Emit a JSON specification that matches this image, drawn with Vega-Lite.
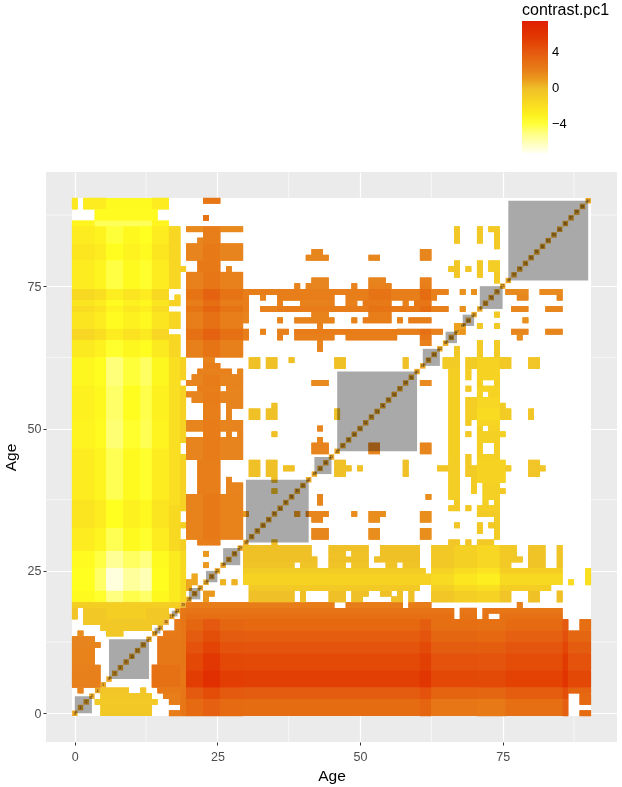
{"$schema":"https://vega.github.io/schema/vega-lite/v6.json","width":571,"height":570,"padding":{"left":46,"top":172,"right":5,"bottom":45},"autosize":"none","background":"white","config":{"view":{"fill":"#EBEBEB","stroke":null},"font":"Liberation Sans"},
"datasets":{
"minor":[{"x":12.5,"y":12.5},{"x":37.5,"y":37.5},{"x":62.5,"y":62.5},{"x":87.5,"y":87.5}],
"base":[{"x":-0.5,"x2":90.5,"y":-0.5,"y2":90.5}],
"blocks":[{"x":0,"x2":3,"y":0,"y2":3},{"x":6,"x2":13,"y":6,"y2":13},{"x":14,"x2":15,"y":14,"y2":15},{"x":17,"x2":18,"y":17,"y2":18},{"x":20,"x2":22,"y":20,"y2":22},{"x":23,"x2":25,"y":23,"y2":25},{"x":26,"x2":29,"y":26,"y2":29},{"x":30,"x2":41,"y":30,"y2":41},{"x":42,"x2":45,"y":42,"y2":45},{"x":46,"x2":60,"y":46,"y2":60},{"x":61,"x2":64,"y":61,"y2":64},{"x":65,"x2":67,"y":65,"y2":67},{"x":68,"x2":70,"y":68,"y2":70},{"x":71,"x2":75,"y":71,"y2":75},{"x":76,"x2":90,"y":76,"y2":90}],
"diag":[{"x":0,"y":0},{"x":1,"y":1},{"x":2,"y":2},{"x":3,"y":3},{"x":4,"y":4},{"x":5,"y":5},{"x":6,"y":6},{"x":7,"y":7},{"x":8,"y":8},{"x":9,"y":9},{"x":10,"y":10},{"x":11,"y":11},{"x":12,"y":12},{"x":13,"y":13},{"x":14,"y":14},{"x":15,"y":15},{"x":16,"y":16},{"x":17,"y":17},{"x":18,"y":18},{"x":19,"y":19},{"x":20,"y":20},{"x":21,"y":21},{"x":22,"y":22},{"x":23,"y":23},{"x":24,"y":24},{"x":25,"y":25},{"x":26,"y":26},{"x":27,"y":27},{"x":28,"y":28},{"x":29,"y":29},{"x":30,"y":30},{"x":31,"y":31},{"x":32,"y":32},{"x":33,"y":33},{"x":34,"y":34},{"x":35,"y":35},{"x":36,"y":36},{"x":37,"y":37},{"x":38,"y":38},{"x":39,"y":39},{"x":40,"y":40},{"x":41,"y":41},{"x":42,"y":42},{"x":43,"y":43},{"x":44,"y":44},{"x":45,"y":45},{"x":46,"y":46},{"x":47,"y":47},{"x":48,"y":48},{"x":49,"y":49},{"x":50,"y":50},{"x":51,"y":51},{"x":52,"y":52},{"x":53,"y":53},{"x":54,"y":54},{"x":55,"y":55},{"x":56,"y":56},{"x":57,"y":57},{"x":58,"y":58},{"x":59,"y":59},{"x":60,"y":60},{"x":61,"y":61},{"x":62,"y":62},{"x":63,"y":63},{"x":64,"y":64},{"x":65,"y":65},{"x":66,"y":66},{"x":67,"y":67},{"x":68,"y":68},{"x":69,"y":69},{"x":70,"y":70},{"x":71,"y":71},{"x":72,"y":72},{"x":73,"y":73},{"x":74,"y":74},{"x":75,"y":75},{"x":76,"y":76},{"x":77,"y":77},{"x":78,"y":78},{"x":79,"y":79},{"x":80,"y":80},{"x":81,"y":81},{"x":82,"y":82},{"x":83,"y":83},{"x":84,"y":84},{"x":85,"y":85},{"x":86,"y":86},{"x":87,"y":87},{"x":88,"y":88},{"x":89,"y":89},{"x":90,"y":90}],
"cells":[
{"x":-0.5,"x2":0.5,"y":88.5,"y2":90.5,"v":-2.5},{"x":1.5,"x2":5.5,"y":88.5,"y2":90.5,"v":-2.7},{"x":5.5,"x2":13.5,"y":88.5,"y2":90.5,"v":-3.5},{"x":13.5,"x2":16.5,"y":88.5,"y2":90.5,"v":-2.7},
{"x":3.5,"x2":14.5,"y":86.5,"y2":88.5,"v":-3.6},
{"x":-0.5,"x2":3.5,"y":85.5,"y2":86.5,"v":-3.2},{"x":3.5,"x2":13.5,"y":85.5,"y2":86.5,"v":-4.4},{"x":13.5,"x2":16.5,"y":85.5,"y2":86.5,"v":-3.2},
{"x":-0.5,"x2":3.5,"y":82.5,"y2":85.5,"v":-2.7},{"x":3.5,"x2":5.5,"y":82.5,"y2":85.5,"v":-3.1},{"x":5.5,"x2":8.5,"y":82.5,"y2":85.5,"v":-4},{"x":8.5,"x2":11.5,"y":82.5,"y2":85.5,"v":-3.4},{"x":11.5,"x2":13.5,"y":82.5,"y2":85.5,"v":-3.8},{"x":13.5,"x2":16.5,"y":82.5,"y2":85.5,"v":-2.7},
{"x":-0.5,"x2":3.5,"y":79.5,"y2":82.5,"v":-2.4},{"x":3.5,"x2":5.5,"y":79.5,"y2":82.5,"v":-2.8},{"x":5.5,"x2":8.5,"y":79.5,"y2":82.5,"v":-3.7},{"x":8.5,"x2":11.5,"y":79.5,"y2":82.5,"v":-3.1},{"x":11.5,"x2":13.5,"y":79.5,"y2":82.5,"v":-3.5},{"x":13.5,"x2":16.5,"y":79.5,"y2":82.5,"v":-2.4},
{"x":-0.5,"x2":3.5,"y":74.5,"y2":79.5,"v":-2.8},{"x":3.5,"x2":5.5,"y":74.5,"y2":79.5,"v":-3.2},{"x":5.5,"x2":8.5,"y":74.5,"y2":79.5,"v":-4.1},{"x":8.5,"x2":11.5,"y":74.5,"y2":79.5,"v":-3.5},{"x":11.5,"x2":13.5,"y":74.5,"y2":79.5,"v":-3.9},{"x":13.5,"x2":16.5,"y":74.5,"y2":79.5,"v":-2.8},
{"x":-0.5,"x2":3.5,"y":72.5,"y2":74.5,"v":-1.6},{"x":3.5,"x2":5.5,"y":72.5,"y2":74.5,"v":-2},{"x":5.5,"x2":8.5,"y":72.5,"y2":74.5,"v":-2.9},{"x":8.5,"x2":11.5,"y":72.5,"y2":74.5,"v":-2.3},{"x":11.5,"x2":13.5,"y":72.5,"y2":74.5,"v":-2.7},{"x":13.5,"x2":16.5,"y":72.5,"y2":74.5,"v":-1.6},
{"x":-0.5,"x2":3.5,"y":71.5,"y2":72.5,"v":-2.3},{"x":3.5,"x2":5.5,"y":71.5,"y2":72.5,"v":-2.7},{"x":5.5,"x2":8.5,"y":71.5,"y2":72.5,"v":-3.6},{"x":8.5,"x2":11.5,"y":71.5,"y2":72.5,"v":-3},{"x":11.5,"x2":13.5,"y":71.5,"y2":72.5,"v":-3.4},{"x":13.5,"x2":16.5,"y":71.5,"y2":72.5,"v":-2.3},
{"x":-0.5,"x2":3.5,"y":70.5,"y2":71.5,"v":-1.8},{"x":3.5,"x2":5.5,"y":70.5,"y2":71.5,"v":-2.2},{"x":5.5,"x2":8.5,"y":70.5,"y2":71.5,"v":-3.1},{"x":8.5,"x2":11.5,"y":70.5,"y2":71.5,"v":-2.5},{"x":11.5,"x2":13.5,"y":70.5,"y2":71.5,"v":-2.9},{"x":13.5,"x2":16.5,"y":70.5,"y2":71.5,"v":-1.8},
{"x":-0.5,"x2":3.5,"y":67.5,"y2":70.5,"v":-2.3},{"x":3.5,"x2":5.5,"y":67.5,"y2":70.5,"v":-2.7},{"x":5.5,"x2":8.5,"y":67.5,"y2":70.5,"v":-3.6},{"x":8.5,"x2":11.5,"y":67.5,"y2":70.5,"v":-3},{"x":11.5,"x2":13.5,"y":67.5,"y2":70.5,"v":-3.4},{"x":13.5,"x2":16.5,"y":67.5,"y2":70.5,"v":-2.3},
{"x":-0.5,"x2":3.5,"y":65.5,"y2":67.5,"v":-1.5},{"x":3.5,"x2":5.5,"y":65.5,"y2":67.5,"v":-1.9},{"x":5.5,"x2":8.5,"y":65.5,"y2":67.5,"v":-2.8},{"x":8.5,"x2":11.5,"y":65.5,"y2":67.5,"v":-2.2},{"x":11.5,"x2":13.5,"y":65.5,"y2":67.5,"v":-2.6},{"x":13.5,"x2":16.5,"y":65.5,"y2":67.5,"v":-1.5},
{"x":-0.5,"x2":3.5,"y":62.5,"y2":65.5,"v":-2.6},{"x":3.5,"x2":5.5,"y":62.5,"y2":65.5,"v":-3},{"x":5.5,"x2":8.5,"y":62.5,"y2":65.5,"v":-3.9},{"x":8.5,"x2":11.5,"y":62.5,"y2":65.5,"v":-3.3},{"x":11.5,"x2":13.5,"y":62.5,"y2":65.5,"v":-3.7},{"x":13.5,"x2":16.5,"y":62.5,"y2":65.5,"v":-2.6},
{"x":-0.5,"x2":3.5,"y":57.5,"y2":62.5,"v":-3.3},{"x":3.5,"x2":5.5,"y":57.5,"y2":62.5,"v":-3.7},{"x":5.5,"x2":8.5,"y":57.5,"y2":62.5,"v":-4.9},{"x":8.5,"x2":11.5,"y":57.5,"y2":62.5,"v":-4},{"x":11.5,"x2":13.5,"y":57.5,"y2":62.5,"v":-4.5},{"x":13.5,"x2":16.5,"y":57.5,"y2":62.5,"v":-3.3},
{"x":-0.5,"x2":3.5,"y":51.5,"y2":57.5,"v":-3},{"x":3.5,"x2":5.5,"y":51.5,"y2":57.5,"v":-3.4},{"x":5.5,"x2":8.5,"y":51.5,"y2":57.5,"v":-4.6},{"x":8.5,"x2":11.5,"y":51.5,"y2":57.5,"v":-3.7},{"x":11.5,"x2":13.5,"y":51.5,"y2":57.5,"v":-4.2},{"x":13.5,"x2":16.5,"y":51.5,"y2":57.5,"v":-3},
{"x":-0.5,"x2":3.5,"y":46.5,"y2":51.5,"v":-3.2},{"x":3.5,"x2":5.5,"y":46.5,"y2":51.5,"v":-3.6},{"x":5.5,"x2":8.5,"y":46.5,"y2":51.5,"v":-4.8},{"x":8.5,"x2":11.5,"y":46.5,"y2":51.5,"v":-3.9},{"x":11.5,"x2":13.5,"y":46.5,"y2":51.5,"v":-4.3},{"x":13.5,"x2":16.5,"y":46.5,"y2":51.5,"v":-3.2},
{"x":-0.5,"x2":3.5,"y":37.5,"y2":46.5,"v":-2.8},{"x":3.5,"x2":5.5,"y":37.5,"y2":46.5,"v":-3.2},{"x":5.5,"x2":8.5,"y":37.5,"y2":46.5,"v":-4.3},{"x":8.5,"x2":11.5,"y":37.5,"y2":46.5,"v":-3.5},{"x":11.5,"x2":13.5,"y":37.5,"y2":46.5,"v":-3.9},{"x":13.5,"x2":16.5,"y":37.5,"y2":46.5,"v":-2.8},
{"x":-0.5,"x2":3.5,"y":32.5,"y2":37.5,"v":-2.3},{"x":3.5,"x2":5.5,"y":32.5,"y2":37.5,"v":-2.7},{"x":5.5,"x2":8.5,"y":32.5,"y2":37.5,"v":-3.8},{"x":8.5,"x2":11.5,"y":32.5,"y2":37.5,"v":-3},{"x":11.5,"x2":13.5,"y":32.5,"y2":37.5,"v":-3.4},{"x":13.5,"x2":16.5,"y":32.5,"y2":37.5,"v":-2.3},
{"x":-0.5,"x2":3.5,"y":28.5,"y2":32.5,"v":-2.8},{"x":3.5,"x2":5.5,"y":28.5,"y2":32.5,"v":-3.2},{"x":5.5,"x2":8.5,"y":28.5,"y2":32.5,"v":-4.3},{"x":8.5,"x2":11.5,"y":28.5,"y2":32.5,"v":-3.5},{"x":11.5,"x2":13.5,"y":28.5,"y2":32.5,"v":-3.9},{"x":13.5,"x2":16.5,"y":28.5,"y2":32.5,"v":-2.8},
{"x":-0.5,"x2":3.5,"y":25.5,"y2":28.5,"v":-3.6},{"x":3.5,"x2":5.5,"y":25.5,"y2":28.5,"v":-4.1},{"x":5.5,"x2":8.5,"y":25.5,"y2":28.5,"v":-5.4},{"x":8.5,"x2":11.5,"y":25.5,"y2":28.5,"v":-4.5},{"x":11.5,"x2":13.5,"y":25.5,"y2":28.5,"v":-5},{"x":13.5,"x2":16.5,"y":25.5,"y2":28.5,"v":-3.5},
{"x":-0.5,"x2":3.5,"y":21.5,"y2":25.5,"v":-3.8},{"x":3.5,"x2":5.5,"y":21.5,"y2":25.5,"v":-4.6},{"x":5.5,"x2":8.5,"y":21.5,"y2":25.5,"v":-6.8},{"x":8.5,"x2":11.5,"y":21.5,"y2":25.5,"v":-5.5},{"x":11.5,"x2":13.5,"y":21.5,"y2":25.5,"v":-6},{"x":13.5,"x2":16.5,"y":21.5,"y2":25.5,"v":-3.7},
{"x":-0.5,"x2":3.5,"y":19.5,"y2":21.5,"v":-3.5},{"x":3.5,"x2":5.5,"y":19.5,"y2":21.5,"v":-3.9},{"x":5.5,"x2":8.5,"y":19.5,"y2":21.5,"v":-5},{"x":8.5,"x2":11.5,"y":19.5,"y2":21.5,"v":-4.2},{"x":11.5,"x2":13.5,"y":19.5,"y2":21.5,"v":-4.6},{"x":13.5,"x2":16.5,"y":19.5,"y2":21.5,"v":-3.4},
{"x":16.5,"x2":18.5,"y":74.5,"y2":85.5,"v":-1.5},{"x":17.5,"x2":18.5,"y":72.5,"y2":73.5,"v":-1.2},{"x":16.5,"x2":18.5,"y":71.5,"y2":72.5,"v":-1.2},{"x":16.5,"x2":18.5,"y":67.5,"y2":70.5,"v":-1.4},{"x":16.5,"x2":18.5,"y":62.5,"y2":66.5,"v":-1.5},{"x":16.5,"x2":18.5,"y":47.5,"y2":62.5,"v":-1.9},{"x":16.5,"x2":18.5,"y":36.5,"y2":47.5,"v":-1.9},{"x":16.5,"x2":18.5,"y":28.5,"y2":36.5,"v":-1.6},{"x":16.5,"x2":18.5,"y":19.5,"y2":28.5,"v":-2.6},
{"x":18.5,"x2":19.5,"y":77.5,"y2":78.5,"v":-1},{"x":18.5,"x2":19.5,"y":58.5,"y2":62.5,"v":-1.2},{"x":18.5,"x2":19.5,"y":47.5,"y2":57.5,"v":-1.2},{"x":18.5,"x2":19.5,"y":35.5,"y2":45.5,"v":-1.2},{"x":18.5,"x2":19.5,"y":32.5,"y2":33.5,"v":-1},{"x":18.5,"x2":19.5,"y":28.5,"y2":30.5,"v":-1},{"x":18.5,"x2":19.5,"y":19.5,"y2":28.5,"v":-1.6},
{"x":-0.5,"x2":18.5,"y":18.5,"y2":19.5,"v":-1},{"x":-0.5,"x2":0.5,"y":16.5,"y2":18.5,"v":-0.4},{"x":1.5,"x2":5.5,"y":16.5,"y2":18.5,"v":-0.6},{"x":5.5,"x2":12.5,"y":16.5,"y2":18.5,"v":-1},{"x":12.5,"x2":16.5,"y":16.5,"y2":18.5,"v":-0.6},{"x":1.5,"x2":15.5,"y":15.5,"y2":16.5,"v":-0.6},{"x":4.5,"x2":13.5,"y":14.5,"y2":15.5,"v":-0.6},{"x":5.5,"x2":8.5,"y":13.5,"y2":14.5,"v":-0.6},
{"x":0.5,"x2":1.5,"y":13.5,"y2":14.5,"v":1.3},{"x":-0.5,"x2":3.5,"y":12.5,"y2":13.5,"v":1.6},{"x":-0.5,"x2":4.5,"y":11.5,"y2":12.5,"v":1.6},{"x":-0.5,"x2":3.5,"y":8.5,"y2":11.5,"v":1.7},{"x":-0.5,"x2":4.5,"y":4.5,"y2":8.5,"v":1.9},{"x":0.5,"x2":1.5,"y":3.5,"y2":4.5,"v":1.6},
{"x":4.5,"x2":9.5,"y":3.5,"y2":4.5,"v":-0.5},{"x":11.5,"x2":12.5,"y":3.5,"y2":4.5,"v":-0.5},{"x":4.5,"x2":13.5,"y":2.5,"y2":3.5,"v":-0.6},{"x":3.5,"x2":14.5,"y":1.5,"y2":2.5,"v":-0.7},{"x":4.5,"x2":13.5,"y":-0.5,"y2":1.5,"v":-0.6},
{"x":15.5,"x2":18.5,"y":13.5,"y2":14.5,"v":2.2},{"x":14.5,"x2":18.5,"y":8.5,"y2":13.5,"v":2.3},{"x":13.5,"x2":18.5,"y":4.5,"y2":8.5,"v":2.7},{"x":14.5,"x2":18.5,"y":3.5,"y2":4.5,"v":2.2},{"x":15.5,"x2":18.5,"y":2.5,"y2":3.5,"v":2},{"x":16.5,"x2":18.5,"y":1.5,"y2":2.5,"v":2},{"x":16.5,"x2":18.5,"y":-0.5,"y2":0.5,"v":2},
{"x":17.5,"x2":18.5,"y":14.5,"y2":16.5,"v":2.2},{"x":18.5,"x2":19.5,"y":-0.5,"y2":18.5,"v":2.4},
{"x":19.5,"x2":45.5,"y":18.5,"y2":19.5,"v":2.1},{"x":47.5,"x2":57.5,"y":18.5,"y2":19.5,"v":2.1},{"x":58.5,"x2":62.5,"y":18.5,"y2":19.5,"v":2.1},{"x":77.5,"x2":78.5,"y":18.5,"y2":19.5,"v":2},
{"x":19.5,"x2":66.5,"y":17.5,"y2":18.5,"v":2.5},{"x":67.5,"x2":70.5,"y":17.5,"y2":18.5,"v":2.4},{"x":71.5,"x2":85.5,"y":17.5,"y2":18.5,"v":2.4},
{"x":19.5,"x2":66.5,"y":16.5,"y2":17.5,"v":2.8},{"x":67.5,"x2":70.5,"y":16.5,"y2":17.5,"v":2.6},{"x":71.5,"x2":72.5,"y":16.5,"y2":17.5,"v":2.6},{"x":74.5,"x2":85.5,"y":16.5,"y2":17.5,"v":2.7},
{"x":19.5,"x2":22.5,"y":14.5,"y2":16.5,"v":3.3},{"x":22.5,"x2":25.5,"y":14.5,"y2":16.5,"v":4},{"x":25.5,"x2":29.5,"y":14.5,"y2":16.5,"v":3.3},{"x":29.5,"x2":60.5,"y":14.5,"y2":16.5,"v":3.2},{"x":60.5,"x2":62.5,"y":14.5,"y2":16.5,"v":3.7},{"x":62.5,"x2":70.5,"y":14.5,"y2":16.5,"v":2.8},{"x":70.5,"x2":75.5,"y":14.5,"y2":16.5,"v":2.7},{"x":75.5,"x2":85.5,"y":14.5,"y2":16.5,"v":3.1},{"x":85.5,"x2":86.5,"y":14.5,"y2":16.5,"v":3.9},{"x":88.5,"x2":90.5,"y":14.5,"y2":16.5,"v":2.8},
{"x":19.5,"x2":22.5,"y":12.5,"y2":14.5,"v":3.8},{"x":22.5,"x2":25.5,"y":12.5,"y2":14.5,"v":4.5},{"x":25.5,"x2":29.5,"y":12.5,"y2":14.5,"v":3.8},{"x":29.5,"x2":60.5,"y":12.5,"y2":14.5,"v":3.7},{"x":60.5,"x2":62.5,"y":12.5,"y2":14.5,"v":4.2},{"x":62.5,"x2":70.5,"y":12.5,"y2":14.5,"v":3.3},{"x":70.5,"x2":75.5,"y":12.5,"y2":14.5,"v":3.2},{"x":75.5,"x2":85.5,"y":12.5,"y2":14.5,"v":3.6},{"x":85.5,"x2":86.5,"y":12.5,"y2":14.5,"v":4.4},{"x":86.5,"x2":90.5,"y":12.5,"y2":14.5,"v":3.3},
{"x":19.5,"x2":22.5,"y":10.5,"y2":12.5,"v":4.3},{"x":22.5,"x2":25.5,"y":10.5,"y2":12.5,"v":5},{"x":25.5,"x2":29.5,"y":10.5,"y2":12.5,"v":4.3},{"x":29.5,"x2":60.5,"y":10.5,"y2":12.5,"v":4.2},{"x":60.5,"x2":62.5,"y":10.5,"y2":12.5,"v":4.7},{"x":62.5,"x2":70.5,"y":10.5,"y2":12.5,"v":3.8},{"x":70.5,"x2":75.5,"y":10.5,"y2":12.5,"v":3.7},{"x":75.5,"x2":85.5,"y":10.5,"y2":12.5,"v":4.1},{"x":85.5,"x2":86.5,"y":10.5,"y2":12.5,"v":4.9},{"x":86.5,"x2":90.5,"y":10.5,"y2":12.5,"v":3.8},
{"x":19.5,"x2":22.5,"y":7.5,"y2":10.5,"v":4.8},{"x":22.5,"x2":25.5,"y":7.5,"y2":10.5,"v":5.6},{"x":25.5,"x2":29.5,"y":7.5,"y2":10.5,"v":4.8},{"x":29.5,"x2":60.5,"y":7.5,"y2":10.5,"v":4.7},{"x":60.5,"x2":62.5,"y":7.5,"y2":10.5,"v":5.2},{"x":62.5,"x2":70.5,"y":7.5,"y2":10.5,"v":4.3},{"x":70.5,"x2":75.5,"y":7.5,"y2":10.5,"v":4.2},{"x":75.5,"x2":85.5,"y":7.5,"y2":10.5,"v":4.6},{"x":85.5,"x2":86.5,"y":7.5,"y2":10.5,"v":5.4},{"x":86.5,"x2":90.5,"y":7.5,"y2":10.5,"v":4.3},
{"x":19.5,"x2":22.5,"y":4.5,"y2":7.5,"v":5.3},{"x":22.5,"x2":25.5,"y":4.5,"y2":7.5,"v":6.3},{"x":25.5,"x2":29.5,"y":4.5,"y2":7.5,"v":5.3},{"x":29.5,"x2":60.5,"y":4.5,"y2":7.5,"v":5.2},{"x":60.5,"x2":62.5,"y":4.5,"y2":7.5,"v":5.7},{"x":62.5,"x2":70.5,"y":4.5,"y2":7.5,"v":4.8},{"x":70.5,"x2":75.5,"y":4.5,"y2":7.5,"v":4.7},{"x":75.5,"x2":85.5,"y":4.5,"y2":7.5,"v":5.1},{"x":85.5,"x2":86.5,"y":4.5,"y2":7.5,"v":5.9},{"x":86.5,"x2":90.5,"y":4.5,"y2":7.5,"v":4.8},
{"x":19.5,"x2":22.5,"y":2.5,"y2":4.5,"v":3.9},{"x":22.5,"x2":25.5,"y":2.5,"y2":4.5,"v":4.6},{"x":25.5,"x2":29.5,"y":2.5,"y2":4.5,"v":3.9},{"x":29.5,"x2":60.5,"y":2.5,"y2":4.5,"v":3.8},{"x":60.5,"x2":62.5,"y":2.5,"y2":4.5,"v":4.3},{"x":62.5,"x2":70.5,"y":2.5,"y2":4.5,"v":3.4},{"x":70.5,"x2":75.5,"y":2.5,"y2":4.5,"v":3.3},{"x":75.5,"x2":85.5,"y":2.5,"y2":4.5,"v":3.7},{"x":85.5,"x2":86.5,"y":2.5,"y2":4.5,"v":4.5},{"x":86.5,"x2":90.5,"y":3.5,"y2":4.5,"v":3.4},{"x":88.5,"x2":90.5,"y":1.5,"y2":3.5,"v":3.2},
{"x":19.5,"x2":22.5,"y":-0.5,"y2":2.5,"v":3.1},{"x":22.5,"x2":25.5,"y":-0.5,"y2":2.5,"v":3.6},{"x":25.5,"x2":29.5,"y":-0.5,"y2":2.5,"v":3.1},{"x":29.5,"x2":60.5,"y":-0.5,"y2":2.5,"v":3},{"x":60.5,"x2":62.5,"y":-0.5,"y2":2.5,"v":3.4},{"x":62.5,"x2":70.5,"y":-0.5,"y2":2.5,"v":2.4},{"x":70.5,"x2":75.5,"y":-0.5,"y2":2.5,"v":2.2},{"x":75.5,"x2":85.5,"y":-0.5,"y2":2.5,"v":2.8},{"x":85.5,"x2":86.5,"y":-0.5,"y2":2.5,"v":3.6},{"x":88.5,"x2":90.5,"y":-0.5,"y2":0.5,"v":3},
{"x":29.5,"x2":41.5,"y":26.5,"y2":29.5,"v":-0.2},{"x":41.5,"x2":42.5,"y":26.5,"y2":27.5,"v":-0.2},{"x":29.5,"x2":38.5,"y":25.5,"y2":26.5,"v":-0.3},{"x":39.5,"x2":42.5,"y":25.5,"y2":26.5,"v":-0.3},{"x":29.5,"x2":44.5,"y":24.5,"y2":25.5,"v":-0.8},{"x":29.5,"x2":62.5,"y":22.5,"y2":24.5,"v":-1.3},{"x":30.5,"x2":43.5,"y":21.5,"y2":22.5,"v":-0.7},{"x":30.5,"x2":38.5,"y":19.5,"y2":21.5,"v":-0.1},{"x":39.5,"x2":40.5,"y":19.5,"y2":21.5,"v":-0.1},
{"x":44.5,"x2":51.5,"y":28.5,"y2":29.5,"v":-0.2},{"x":53.5,"x2":60.5,"y":26.5,"y2":29.5,"v":-0.2},{"x":44.5,"x2":47.5,"y":27.5,"y2":28.5,"v":-0.2},{"x":48.5,"x2":51.5,"y":27.5,"y2":28.5,"v":-0.2},{"x":44.5,"x2":51.5,"y":26.5,"y2":27.5,"v":-0.2},{"x":52.5,"x2":53.5,"y":26.5,"y2":27.5,"v":-0.2},{"x":44.5,"x2":47.5,"y":25.5,"y2":26.5,"v":-0.3},{"x":48.5,"x2":51.5,"y":25.5,"y2":26.5,"v":-0.3},{"x":54.5,"x2":56.5,"y":25.5,"y2":26.5,"v":-0.3},{"x":57.5,"x2":60.5,"y":25.5,"y2":26.5,"v":-0.3},{"x":44.5,"x2":61.5,"y":24.5,"y2":25.5,"v":-0.8},{"x":43.5,"x2":60.5,"y":21.5,"y2":22.5,"v":-0.7},{"x":44.5,"x2":47.5,"y":19.5,"y2":21.5,"v":-0.1},{"x":48.5,"x2":51.5,"y":20.5,"y2":21.5,"v":-0.1},{"x":53.5,"x2":55.5,"y":20.5,"y2":21.5,"v":-0.1},{"x":56.5,"x2":57.5,"y":19.5,"y2":21.5,"v":-0.1},{"x":58.5,"x2":59.5,"y":19.5,"y2":21.5,"v":-0.1},{"x":48.5,"x2":50.5,"y":19.5,"y2":20.5,"v":-0.1},{"x":55.5,"x2":56.5,"y":19.5,"y2":20.5,"v":-0.1},
{"x":62.5,"x2":66.5,"y":25.5,"y2":29.5,"v":-0.6},{"x":66.5,"x2":70.5,"y":25.5,"y2":29.5,"v":-1.1},{"x":70.5,"x2":74.5,"y":25.5,"y2":29.5,"v":-1.5},{"x":74.5,"x2":76.5,"y":25.5,"y2":29.5,"v":-0.7},{"x":76.5,"x2":77.5,"y":26.5,"y2":29.5,"v":-0.6},{"x":77.5,"x2":78.5,"y":26.5,"y2":27.5,"v":-0.5},{"x":79.5,"x2":82.5,"y":25.5,"y2":29.5,"v":-0.3},{"x":84.5,"x2":85.5,"y":25.5,"y2":29.5,"v":-0.3},
{"x":62.5,"x2":66.5,"y":24.5,"y2":25.5,"v":-1.2},{"x":66.5,"x2":70.5,"y":24.5,"y2":25.5,"v":-1.8},{"x":70.5,"x2":74.5,"y":24.5,"y2":25.5,"v":-2.2},{"x":74.5,"x2":85.5,"y":24.5,"y2":25.5,"v":-1},
{"x":62.5,"x2":66.5,"y":22.5,"y2":24.5,"v":-1.7},{"x":66.5,"x2":70.5,"y":22.5,"y2":24.5,"v":-2.4},{"x":70.5,"x2":74.5,"y":22.5,"y2":24.5,"v":-2.9},{"x":74.5,"x2":85.5,"y":22.5,"y2":24.5,"v":-1.6},{"x":86.5,"x2":87.5,"y":22.5,"y2":23.5,"v":-1.8},{"x":89.5,"x2":90.5,"y":22.5,"y2":25.5,"v":-2},
{"x":62.5,"x2":66.5,"y":21.5,"y2":22.5,"v":-1.1},{"x":66.5,"x2":70.5,"y":21.5,"y2":22.5,"v":-1.6},{"x":70.5,"x2":74.5,"y":21.5,"y2":22.5,"v":-2},{"x":74.5,"x2":83.5,"y":21.5,"y2":22.5,"v":-1},
{"x":62.5,"x2":66.5,"y":19.5,"y2":21.5,"v":-0.5},{"x":66.5,"x2":70.5,"y":19.5,"y2":21.5,"v":-0.9},{"x":70.5,"x2":74.5,"y":19.5,"y2":21.5,"v":-1.2},{"x":74.5,"x2":76.5,"y":19.5,"y2":21.5,"v":-0.4},{"x":79.5,"x2":81.5,"y":19.5,"y2":21.5,"v":-0.2},{"x":84.5,"x2":85.5,"y":19.5,"y2":21.5,"v":-0.2},
{"x":22.5,"x2":25.5,"y":89.5,"y2":90.5,"v":2.4},{"x":22.5,"x2":23.5,"y":86.5,"y2":87.5,"v":2.6},
{"x":19.5,"x2":22.5,"y":84.5,"y2":85.5,"v":1.4},{"x":22.5,"x2":25.5,"y":82.5,"y2":85.5,"v":2},{"x":25.5,"x2":29.5,"y":84.5,"y2":85.5,"v":1.4},{"x":21.5,"x2":22.5,"y":82.5,"y2":83.5,"v":1.6},
{"x":19.5,"x2":22.5,"y":79.5,"y2":82.5,"v":1.6},{"x":22.5,"x2":25.5,"y":79.5,"y2":82.5,"v":2.2},{"x":25.5,"x2":29.5,"y":79.5,"y2":82.5,"v":1.6},{"x":21.5,"x2":25.5,"y":77.5,"y2":79.5,"v":2.2},{"x":26.5,"x2":27.5,"y":77.5,"y2":78.5,"v":1.6},
{"x":19.5,"x2":22.5,"y":74.5,"y2":77.5,"v":1.8},{"x":22.5,"x2":25.5,"y":74.5,"y2":77.5,"v":2.4},{"x":25.5,"x2":29.5,"y":74.5,"y2":77.5,"v":1.8},
{"x":19.5,"x2":22.5,"y":72.5,"y2":74.5,"v":2.6},{"x":22.5,"x2":25.5,"y":72.5,"y2":74.5,"v":3.5},{"x":25.5,"x2":29.5,"y":72.5,"y2":74.5,"v":2.6},
{"x":19.5,"x2":22.5,"y":71.5,"y2":72.5,"v":2},{"x":22.5,"x2":25.5,"y":71.5,"y2":72.5,"v":2.8},{"x":25.5,"x2":29.5,"y":71.5,"y2":72.5,"v":2},
{"x":19.5,"x2":22.5,"y":70.5,"y2":71.5,"v":2.6},{"x":22.5,"x2":25.5,"y":70.5,"y2":71.5,"v":3.4},{"x":25.5,"x2":29.5,"y":70.5,"y2":71.5,"v":2.6},
{"x":19.5,"x2":22.5,"y":67.5,"y2":70.5,"v":2},{"x":22.5,"x2":25.5,"y":67.5,"y2":70.5,"v":2.7},{"x":25.5,"x2":29.5,"y":67.5,"y2":70.5,"v":2},
{"x":19.5,"x2":22.5,"y":65.5,"y2":67.5,"v":2.7},{"x":22.5,"x2":25.5,"y":65.5,"y2":67.5,"v":3.5},{"x":25.5,"x2":29.5,"y":65.5,"y2":67.5,"v":2.7},
{"x":19.5,"x2":22.5,"y":62.5,"y2":65.5,"v":1.9},{"x":22.5,"x2":25.5,"y":62.5,"y2":65.5,"v":2.6},{"x":25.5,"x2":29.5,"y":62.5,"y2":65.5,"v":1.9},
{"x":22.5,"x2":24.5,"y":61.5,"y2":62.5,"v":1.7},{"x":22.5,"x2":25.5,"y":60.5,"y2":61.5,"v":2},{"x":21.5,"x2":27.5,"y":59.5,"y2":60.5,"v":1.8},{"x":28.5,"x2":29.5,"y":59.5,"y2":60.5,"v":1.5},
{"x":20.5,"x2":22.5,"y":58.5,"y2":59.5,"v":1.6},{"x":22.5,"x2":25.5,"y":57.5,"y2":59.5,"v":2.1},{"x":25.5,"x2":29.5,"y":57.5,"y2":59.5,"v":1.6},{"x":19.5,"x2":22.5,"y":57.5,"y2":58.5,"v":1.6},
{"x":21.5,"x2":25.5,"y":56.5,"y2":57.5,"v":2},{"x":26.5,"x2":29.5,"y":56.5,"y2":57.5,"v":1.6},{"x":19.5,"x2":22.5,"y":55.5,"y2":56.5,"v":1.6},{"x":22.5,"x2":25.5,"y":54.5,"y2":56.5,"v":2.1},{"x":25.5,"x2":29.5,"y":54.5,"y2":56.5,"v":1.6},{"x":20.5,"x2":22.5,"y":54.5,"y2":55.5,"v":1.6},
{"x":22.5,"x2":25.5,"y":51.5,"y2":54.5,"v":2},{"x":26.5,"x2":29.5,"y":53.5,"y2":54.5,"v":1.6},{"x":26.5,"x2":27.5,"y":51.5,"y2":53.5,"v":1.6},
{"x":19.5,"x2":22.5,"y":49.5,"y2":51.5,"v":1.6},{"x":22.5,"x2":25.5,"y":48.5,"y2":51.5,"v":2.1},{"x":25.5,"x2":29.5,"y":49.5,"y2":51.5,"v":1.6},{"x":26.5,"x2":27.5,"y":48.5,"y2":49.5,"v":1.6},{"x":28.5,"x2":29.5,"y":48.5,"y2":49.5,"v":1.6},
{"x":19.5,"x2":22.5,"y":44.5,"y2":48.5,"v":1.6},{"x":22.5,"x2":25.5,"y":44.5,"y2":48.5,"v":2.1},{"x":25.5,"x2":29.5,"y":44.5,"y2":48.5,"v":1.6},
{"x":21.5,"x2":25.5,"y":38.5,"y2":44.5,"v":2},{"x":26.5,"x2":27.5,"y":40.5,"y2":41.5,"v":1.6},{"x":26.5,"x2":29.5,"y":38.5,"y2":40.5,"v":1.6},
{"x":19.5,"x2":22.5,"y":30.5,"y2":38.5,"v":1.7},{"x":22.5,"x2":25.5,"y":30.5,"y2":38.5,"v":2.2},{"x":25.5,"x2":29.5,"y":30.5,"y2":38.5,"v":1.7},{"x":21.5,"x2":25.5,"y":29.5,"y2":30.5,"v":2},
{"x":22.5,"x2":23.5,"y":27.5,"y2":28.5,"v":1},{"x":22.5,"x2":23.5,"y":25.5,"y2":26.5,"v":1},{"x":20.5,"x2":21.5,"y":22.5,"y2":24.5,"v":0.6},{"x":19.5,"x2":20.5,"y":21.5,"y2":23.5,"v":0.6},{"x":25.5,"x2":26.5,"y":22.5,"y2":23.5,"v":0.3},{"x":27.5,"x2":28.5,"y":22.5,"y2":23.5,"v":0.3},{"x":22.5,"x2":24.5,"y":20.5,"y2":21.5,"v":1},{"x":22.5,"x2":23.5,"y":19.5,"y2":20.5,"v":1},
{"x":41.5,"x2":43.5,"y":80.5,"y2":81.5,"v":1.5},{"x":40.5,"x2":44.5,"y":79.5,"y2":80.5,"v":1.5},{"x":51.5,"x2":53.5,"y":79.5,"y2":80.5,"v":1.5},{"x":60.5,"x2":62.5,"y":79.5,"y2":81.5,"v":1.5},
{"x":41.5,"x2":44.5,"y":75.5,"y2":76.5,"v":1.6},{"x":51.5,"x2":54.5,"y":75.5,"y2":76.5,"v":1.6},{"x":60.5,"x2":62.5,"y":75.5,"y2":76.5,"v":1.8},{"x":38.5,"x2":39.5,"y":74.5,"y2":75.5,"v":1.6},{"x":40.5,"x2":44.5,"y":74.5,"y2":75.5,"v":1.6},{"x":48.5,"x2":49.5,"y":74.5,"y2":75.5,"v":1.6},{"x":51.5,"x2":55.5,"y":74.5,"y2":75.5,"v":1.8},{"x":60.5,"x2":62.5,"y":74.5,"y2":75.5,"v":2},
{"x":29.5,"x2":51.5,"y":73.5,"y2":74.5,"v":2},{"x":51.5,"x2":55.5,"y":73.5,"y2":74.5,"v":2.6},{"x":55.5,"x2":60.5,"y":73.5,"y2":74.5,"v":2},{"x":60.5,"x2":62.5,"y":73.5,"y2":74.5,"v":3},{"x":62.5,"x2":65.5,"y":73.5,"y2":74.5,"v":1.8},{"x":67.5,"x2":68.5,"y":73.5,"y2":74.5,"v":1.2},{"x":69.5,"x2":70.5,"y":73.5,"y2":74.5,"v":1.2},{"x":75.5,"x2":79.5,"y":73.5,"y2":74.5,"v":1.4},{"x":81.5,"x2":85.5,"y":73.5,"y2":74.5,"v":1.4},
{"x":29.5,"x2":30.5,"y":72.5,"y2":73.5,"v":2},{"x":32.5,"x2":33.5,"y":72.5,"y2":73.5,"v":1.6},{"x":35.5,"x2":45.5,"y":72.5,"y2":73.5,"v":2},{"x":47.5,"x2":51.5,"y":72.5,"y2":73.5,"v":2},{"x":51.5,"x2":55.5,"y":72.5,"y2":73.5,"v":2.6},{"x":55.5,"x2":60.5,"y":72.5,"y2":73.5,"v":2},{"x":60.5,"x2":62.5,"y":72.5,"y2":73.5,"v":3},{"x":62.5,"x2":63.5,"y":72.5,"y2":73.5,"v":1.8},{"x":77.5,"x2":79.5,"y":72.5,"y2":73.5,"v":1.5},{"x":84.5,"x2":85.5,"y":72.5,"y2":73.5,"v":1.5},
{"x":29.5,"x2":30.5,"y":71.5,"y2":72.5,"v":2},{"x":35.5,"x2":36.5,"y":71.5,"y2":72.5,"v":1.8},{"x":39.5,"x2":45.5,"y":71.5,"y2":72.5,"v":1.8},{"x":47.5,"x2":49.5,"y":71.5,"y2":72.5,"v":1.8},{"x":50.5,"x2":55.5,"y":71.5,"y2":72.5,"v":2.2},{"x":57.5,"x2":58.5,"y":71.5,"y2":72.5,"v":1.8},{"x":59.5,"x2":62.5,"y":71.5,"y2":72.5,"v":2.4},
{"x":29.5,"x2":30.5,"y":70.5,"y2":71.5,"v":2},{"x":32.5,"x2":35.5,"y":70.5,"y2":71.5,"v":1.8},{"x":35.5,"x2":51.5,"y":70.5,"y2":71.5,"v":2.1},{"x":51.5,"x2":55.5,"y":70.5,"y2":71.5,"v":2.6},{"x":55.5,"x2":60.5,"y":70.5,"y2":71.5,"v":2.2},{"x":60.5,"x2":62.5,"y":70.5,"y2":71.5,"v":3},{"x":62.5,"x2":65.5,"y":70.5,"y2":71.5,"v":1.9},{"x":67.5,"x2":68.5,"y":70.5,"y2":71.5,"v":1.2},{"x":76.5,"x2":79.5,"y":70.5,"y2":71.5,"v":1.5},{"x":82.5,"x2":85.5,"y":70.5,"y2":71.5,"v":1.5},
{"x":29.5,"x2":30.5,"y":69.5,"y2":70.5,"v":1.6},{"x":41.5,"x2":44.5,"y":69.5,"y2":70.5,"v":1.7},{"x":51.5,"x2":55.5,"y":69.5,"y2":70.5,"v":2},
{"x":29.5,"x2":30.5,"y":68.5,"y2":69.5,"v":1.6},{"x":35.5,"x2":36.5,"y":68.5,"y2":69.5,"v":1.6},{"x":38.5,"x2":45.5,"y":68.5,"y2":69.5,"v":1.7},{"x":48.5,"x2":49.5,"y":68.5,"y2":69.5,"v":1.7},{"x":50.5,"x2":55.5,"y":68.5,"y2":69.5,"v":2},{"x":56.5,"x2":57.5,"y":68.5,"y2":69.5,"v":1.7},{"x":58.5,"x2":62.5,"y":68.5,"y2":69.5,"v":2},{"x":78.5,"x2":79.5,"y":68.5,"y2":69.5,"v":1.2},
{"x":42.5,"x2":43.5,"y":67.5,"y2":68.5,"v":1.7},{"x":66.5,"x2":68.5,"y":67.5,"y2":68.5,"v":0.8},
{"x":29.5,"x2":30.5,"y":66.5,"y2":67.5,"v":2},{"x":32.5,"x2":33.5,"y":66.5,"y2":67.5,"v":1.7},{"x":35.5,"x2":37.5,"y":66.5,"y2":67.5,"v":1.9},{"x":38.5,"x2":56.5,"y":66.5,"y2":67.5,"v":2.1},{"x":56.5,"x2":60.5,"y":66.5,"y2":67.5,"v":2},{"x":60.5,"x2":62.5,"y":66.5,"y2":67.5,"v":2.9},{"x":62.5,"x2":64.5,"y":66.5,"y2":67.5,"v":1.8},{"x":66.5,"x2":68.5,"y":66.5,"y2":67.5,"v":1.1},{"x":76.5,"x2":79.5,"y":66.5,"y2":67.5,"v":1.5},{"x":82.5,"x2":85.5,"y":66.5,"y2":67.5,"v":1.5},
{"x":29.5,"x2":30.5,"y":65.5,"y2":66.5,"v":1.9},{"x":35.5,"x2":36.5,"y":65.5,"y2":66.5,"v":1.8},{"x":38.5,"x2":45.5,"y":65.5,"y2":66.5,"v":1.9},{"x":47.5,"x2":56.5,"y":65.5,"y2":66.5,"v":2},{"x":60.5,"x2":62.5,"y":65.5,"y2":66.5,"v":2.4},{"x":77.5,"x2":78.5,"y":65.5,"y2":66.5,"v":1.3},
{"x":42.5,"x2":43.5,"y":63.5,"y2":65.5,"v":1.6},{"x":60.5,"x2":62.5,"y":64.5,"y2":65.5,"v":1.8},
{"x":30.5,"x2":32.5,"y":60.5,"y2":62.5,"v":-0.2},{"x":33.5,"x2":35.5,"y":60.5,"y2":62.5,"v":-0.2},{"x":37.5,"x2":38.5,"y":61.5,"y2":62.5,"v":-0.2},{"x":45.5,"x2":47.5,"y":60.5,"y2":62.5,"v":-0.2},{"x":57.5,"x2":58.5,"y":60.5,"y2":62.5,"v":-0.2},
{"x":41.5,"x2":44.5,"y":57.5,"y2":58.5,"v":1.4},{"x":60.5,"x2":62.5,"y":57.5,"y2":58.5,"v":1.4},{"x":30.5,"x2":32.5,"y":51.5,"y2":53.5,"v":-0.2},{"x":33.5,"x2":35.5,"y":51.5,"y2":53.5,"v":-0.2},{"x":34.5,"x2":35.5,"y":53.5,"y2":54.5,"v":-0.2},{"x":34.5,"x2":35.5,"y":48.5,"y2":49.5,"v":-0.2},{"x":42.5,"x2":43.5,"y":49.5,"y2":50.5,"v":1.5},{"x":42.5,"x2":43.5,"y":47.5,"y2":48.5,"v":1.5},{"x":41.5,"x2":44.5,"y":45.5,"y2":47.5,"v":1.6},{"x":45.5,"x2":46.5,"y":51.5,"y2":53.5,"v":-0.2},{"x":51.5,"x2":53.5,"y":45.5,"y2":47.5,"v":1.5},{"x":60.5,"x2":62.5,"y":45.5,"y2":47.5,"v":1.5},
{"x":30.5,"x2":32.5,"y":41.5,"y2":44.5,"v":-0.2},{"x":33.5,"x2":35.5,"y":41.5,"y2":44.5,"v":-0.2},{"x":36.5,"x2":38.5,"y":42.5,"y2":43.5,"v":-0.2},{"x":45.5,"x2":47.5,"y":41.5,"y2":44.5,"v":-0.2},{"x":47.5,"x2":48.5,"y":42.5,"y2":43.5,"v":-0.2},{"x":49.5,"x2":50.5,"y":42.5,"y2":43.5,"v":-0.2},{"x":57.5,"x2":58.5,"y":41.5,"y2":44.5,"v":-0.2},
{"x":34.5,"x2":35.5,"y":40.5,"y2":41.5,"v":0},{"x":34.5,"x2":35.5,"y":38.5,"y2":39.5,"v":0},{"x":34.5,"x2":35.5,"y":29.5,"y2":30.5,"v":0},{"x":38.5,"x2":39.5,"y":34.5,"y2":35.5,"v":1},{"x":29.5,"x2":30.5,"y":34.5,"y2":35.5,"v":1},
{"x":42.5,"x2":43.5,"y":36.5,"y2":38.5,"v":1.5},{"x":40.5,"x2":44.5,"y":34.5,"y2":35.5,"v":1.5},{"x":41.5,"x2":43.5,"y":33.5,"y2":34.5,"v":1.5},{"x":41.5,"x2":44.5,"y":30.5,"y2":32.5,"v":1.5},{"x":48.5,"x2":49.5,"y":34.5,"y2":35.5,"v":1.3},{"x":51.5,"x2":54.5,"y":34.5,"y2":35.5,"v":1.3},{"x":51.5,"x2":53.5,"y":33.5,"y2":34.5,"v":1.3},{"x":51.5,"x2":53.5,"y":30.5,"y2":32.5,"v":1.3},{"x":60.5,"x2":62.5,"y":33.5,"y2":35.5,"v":1.3},{"x":60.5,"x2":62.5,"y":30.5,"y2":32.5,"v":1.3},{"x":61.5,"x2":62.5,"y":37.5,"y2":38.5,"v":1.3},
{"x":66.5,"x2":67.5,"y":82.5,"y2":85.5,"v":-0.5},{"x":70.5,"x2":71.5,"y":82.5,"y2":85.5,"v":-0.6},{"x":72.5,"x2":74.5,"y":84.5,"y2":85.5,"v":-0.7},{"x":73.5,"x2":74.5,"y":81.5,"y2":84.5,"v":-0.7},
{"x":65.5,"x2":66.5,"y":77.5,"y2":78.5,"v":-0.5},{"x":66.5,"x2":67.5,"y":76.5,"y2":79.5,"v":-0.5},{"x":68.5,"x2":69.5,"y":77.5,"y2":78.5,"v":-0.5},{"x":70.5,"x2":71.5,"y":76.5,"y2":79.5,"v":-0.6},{"x":72.5,"x2":74.5,"y":77.5,"y2":79.5,"v":-0.9},{"x":73.5,"x2":74.5,"y":75.5,"y2":77.5,"v":-0.7},
{"x":73.5,"x2":74.5,"y":69.5,"y2":70.5,"v":-0.7},{"x":70.5,"x2":71.5,"y":67.5,"y2":68.5,"v":-0.6},{"x":73.5,"x2":74.5,"y":67.5,"y2":68.5,"v":-0.6},
{"x":70.5,"x2":71.5,"y":62.5,"y2":65.5,"v":-0.8},{"x":73.5,"x2":74.5,"y":61.5,"y2":65.5,"v":-0.8},{"x":66.5,"x2":67.5,"y":62.5,"y2":64.5,"v":-0.6},{"x":72.5,"x2":73.5,"y":61.5,"y2":62.5,"v":-0.8},
{"x":64.5,"x2":67.5,"y":60.5,"y2":62.5,"v":-0.8},{"x":68.5,"x2":70.5,"y":60.5,"y2":62.5,"v":-0.8},{"x":70.5,"x2":74.5,"y":60.5,"y2":62.5,"v":-1.3},{"x":74.5,"x2":76.5,"y":60.5,"y2":62.5,"v":-0.6},{"x":79.5,"x2":81.5,"y":60.5,"y2":62.5,"v":-0.4},
{"x":65.5,"x2":67.5,"y":44.5,"y2":60.5,"v":-1},{"x":68.5,"x2":69.5,"y":58.5,"y2":60.5,"v":-0.9},{"x":70.5,"x2":74.5,"y":58.5,"y2":60.5,"v":-1.3},{"x":70.5,"x2":71.5,"y":57.5,"y2":58.5,"v":-1.1},{"x":73.5,"x2":74.5,"y":57.5,"y2":58.5,"v":-1.1},{"x":68.5,"x2":69.5,"y":56.5,"y2":57.5,"v":-0.8},{"x":70.5,"x2":74.5,"y":56.5,"y2":57.5,"v":-1.3},{"x":70.5,"x2":71.5,"y":55.5,"y2":56.5,"v":-1.2},{"x":72.5,"x2":74.5,"y":55.5,"y2":56.5,"v":-1.3},
{"x":68.5,"x2":70.5,"y":53.5,"y2":55.5,"v":-0.9},{"x":70.5,"x2":74.5,"y":53.5,"y2":55.5,"v":-1.5},{"x":74.5,"x2":75.5,"y":53.5,"y2":54.5,"v":-0.8},{"x":68.5,"x2":70.5,"y":51.5,"y2":53.5,"v":-1},{"x":70.5,"x2":74.5,"y":51.5,"y2":53.5,"v":-1.8},{"x":74.5,"x2":76.5,"y":51.5,"y2":53.5,"v":-0.8},{"x":79.5,"x2":80.5,"y":51.5,"y2":53.5,"v":-0.5},
{"x":68.5,"x2":69.5,"y":50.5,"y2":51.5,"v":-0.8},{"x":70.5,"x2":74.5,"y":50.5,"y2":51.5,"v":-1.4},{"x":70.5,"x2":71.5,"y":49.5,"y2":50.5,"v":-1.1},{"x":72.5,"x2":74.5,"y":49.5,"y2":50.5,"v":-1.2},{"x":68.5,"x2":69.5,"y":48.5,"y2":49.5,"v":-0.7},{"x":70.5,"x2":75.5,"y":48.5,"y2":49.5,"v":-1.1},{"x":70.5,"x2":74.5,"y":47.5,"y2":48.5,"v":-1.1},{"x":70.5,"x2":71.5,"y":45.5,"y2":47.5,"v":-1},{"x":73.5,"x2":74.5,"y":45.5,"y2":47.5,"v":-1},{"x":68.5,"x2":69.5,"y":44.5,"y2":45.5,"v":-0.7},{"x":70.5,"x2":74.5,"y":44.5,"y2":45.5,"v":-1.1},
{"x":65.5,"x2":67.5,"y":37.5,"y2":44.5,"v":-0.9},{"x":63.5,"x2":65.5,"y":42.5,"y2":43.5,"v":-0.5},{"x":68.5,"x2":69.5,"y":41.5,"y2":44.5,"v":-0.7},{"x":69.5,"x2":70.5,"y":38.5,"y2":43.5,"v":-0.8},{"x":70.5,"x2":75.5,"y":40.5,"y2":44.5,"v":-1.3},{"x":75.5,"x2":76.5,"y":42.5,"y2":43.5,"v":-0.7},{"x":79.5,"x2":81.5,"y":41.5,"y2":44.5,"v":-0.4},{"x":81.5,"x2":82.5,"y":42.5,"y2":43.5,"v":-0.4},{"x":71.5,"x2":74.5,"y":37.5,"y2":40.5,"v":-1.1},{"x":74.5,"x2":75.5,"y":38.5,"y2":39.5,"v":-0.7},{"x":66.5,"x2":67.5,"y":36.5,"y2":37.5,"v":-0.7},{"x":71.5,"x2":72.5,"y":36.5,"y2":37.5,"v":-1},{"x":73.5,"x2":74.5,"y":36.5,"y2":37.5,"v":-1},
{"x":65.5,"x2":67.5,"y":35.5,"y2":36.5,"v":-0.7},{"x":68.5,"x2":69.5,"y":35.5,"y2":36.5,"v":-0.6},{"x":70.5,"x2":74.5,"y":35.5,"y2":36.5,"v":-0.9},{"x":70.5,"x2":73.5,"y":34.5,"y2":35.5,"v":-0.8},{"x":73.5,"x2":74.5,"y":30.5,"y2":35.5,"v":-0.8},{"x":66.5,"x2":67.5,"y":32.5,"y2":33.5,"v":-0.5},{"x":70.5,"x2":71.5,"y":31.5,"y2":33.5,"v":-0.6},{"x":72.5,"x2":73.5,"y":32.5,"y2":33.5,"v":-0.6},
{"x":65.5,"x2":67.5,"y":29.5,"y2":30.5,"v":-0.5},{"x":68.5,"x2":69.5,"y":29.5,"y2":30.5,"v":-0.5},{"x":70.5,"x2":73.5,"y":29.5,"y2":30.5,"v":-0.7}
]},
"encoding":{"x":{"field":"x","type":"quantitative","title":"Age","scale":{"domain":[-5.05,95.05],"nice":false,"zero":false},"axis":{"values":[0,25,50,75],"format":"d","gridColor":"white","gridWidth":1.2,"domain":false,"tickColor":"#333333","tickSize":3,"labelColor":"#4D4D4D","labelFontSize":12.5,"labelPadding":5,"titleFontSize":15.5,"titleFontWeight":"normal","titleColor":"black","titlePadding":6}},"y":{"field":"y","type":"quantitative","title":"Age","scale":{"domain":[-5.05,95.05],"nice":false,"zero":false},"axis":{"values":[0,25,50,75],"format":"d","gridColor":"white","gridWidth":1.2,"domain":false,"tickColor":"#333333","tickSize":3,"labelColor":"#4D4D4D","labelFontSize":12.5,"labelPadding":2,"titleFontSize":15.5,"titleFontWeight":"normal","titleColor":"black","titlePadding":9}}},
"layer":[
{"data":{"name":"minor"},"mark":{"type":"rule","color":"white","strokeWidth":0.6},"encoding":{"y":null}},
{"data":{"name":"minor"},"mark":{"type":"rule","color":"white","strokeWidth":0.6},"encoding":{"x":null}},
{"data":{"name":"base"},"mark":{"type":"rect","fill":"white"},"encoding":{"x2":{"field":"x2"},"y2":{"field":"y2"}}},
{"data":{"name":"cells"},"mark":{"type":"rect"},"encoding":{"x2":{"field":"x2"},"y2":{"field":"y2"},"color":{"field":"v","type":"quantitative","scale":{"domain":[-7.2,-5,-3.8,0,1.5,4,5.5,7.4],"range":["#FFFFF0","#FFFF80","#FFFF20","#EEBE28","#E8861E","#E4580F","#E23802","#E01E00"]},"legend":{"orient":"none","legendX":476,"legendY":-170,"values":[-4,0,4],"gradientLength":132,"gradientThickness":26,"title":"contrast.pc1","titleFontSize":16,"titleFontWeight":"normal","titleColor":"black","titlePadding":3,"labelFontSize":13,"labelColor":"black","labelOffset":4,"gradientStrokeWidth":0}}}},
{"data":{"name":"cells"},"mark":{"type":"rect"},"encoding":{"x2":{"field":"x2"},"y2":{"field":"y2"},"color":{"field":"v","type":"quantitative"}}},
{"data":{"name":"cells"},"mark":{"type":"rect"},"encoding":{"x2":{"field":"x2"},"y2":{"field":"y2"},"color":{"field":"v","type":"quantitative"}}},
{"data":{"name":"diag"},"mark":{"type":"square","size":30,"filled":true,"opacity":1,"fill":"#EDA826"}},
{"data":{"name":"blocks"},"mark":{"type":"rect","fill":"#A9A9A9","blend":"multiply"},"encoding":{"x2":{"field":"x2"},"y2":{"field":"y2"}}},
{"data":{"name":"diag"},"mark":{"type":"text","fontSize":3,"color":"#222222"},"encoding":{"text":{"field":"x","type":"nominal"}}}
]}
